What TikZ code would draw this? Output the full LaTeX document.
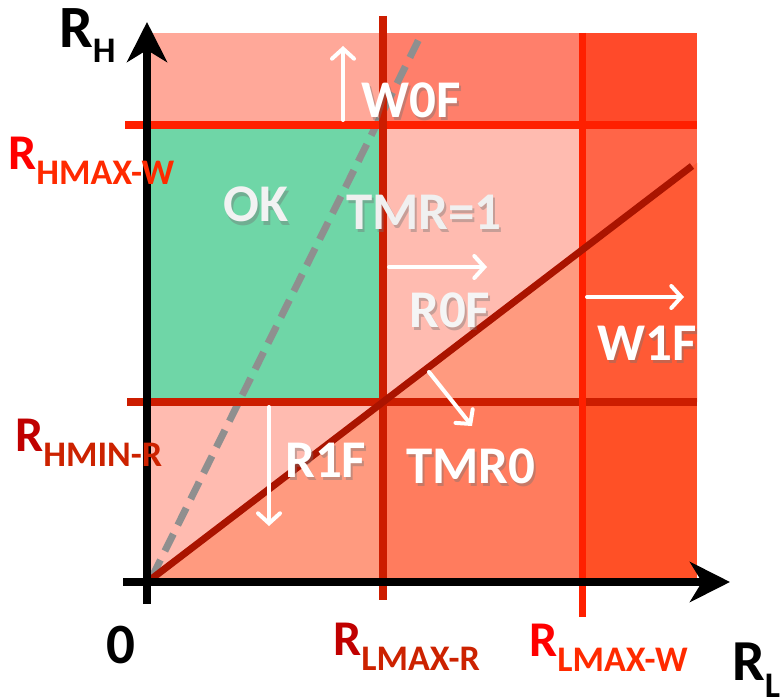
\documentclass[tikz,border=0pt]{standalone}
\usepackage{fontspec}
\setmainfont{Carlito}
\usetikzlibrary{arrows.meta}
\definecolor{cTL}{HTML}{FFA899}
\definecolor{cTM}{HTML}{FF7F6B}
\definecolor{cTR}{HTML}{FF4A2A}
\definecolor{cGreen}{HTML}{6FD6A7}
\definecolor{cLight}{HTML}{FFBBB0}
\definecolor{cMid}{HTML}{FF9A7F}
\definecolor{cMR}{HTML}{FF6548}
\definecolor{cMRb}{HTML}{FF5A35}
\definecolor{cBM}{HTML}{FF7C5E}
\definecolor{cBR}{HTML}{FF5026}
\definecolor{lineW}{HTML}{FF2000}
\definecolor{lineR}{HTML}{CC1D00}
\definecolor{diagC}{HTML}{AA1400}
\definecolor{dashC}{HTML}{8F8F8F}
\definecolor{labW}{HTML}{FF0000}
\definecolor{labWsub}{HTML}{FF2A00}
\definecolor{labR}{HTML}{C00000}
\definecolor{labRsub}{HTML}{CC2200}
\tikzset{
  axis/.style={line width=8pt, -{Stealth[length=40pt,width=40pt,inset=12pt]}},
  limW/.style={line width=8pt, draw=lineW},
  limR/.style={line width=8pt, draw=lineR},
  warrow/.style={line width=4pt, white, line cap=round, -{Straight Barb[length=10pt,width=22pt,line cap=round]}},
  lbl/.style={anchor=base west, inner sep=0pt, text=white, font=\fontsize{53}{53}\selectfont\bfseries},
  lblsh/.style={anchor=base west, inner sep=0pt, text=black!55, opacity=0.4, font=\fontsize{53}{53}\selectfont\bfseries},
  axlbl/.style={anchor=base west, inner sep=0pt, font=\fontsize{50}{50}\selectfont\bfseries},
}
\newcommand{\subtx}[2]{\raisebox{-15pt}{\color{#1}\fontsize{36}{36}\selectfont\bfseries #2}}
\begin{document}
\begin{tikzpicture}[x=1pt,y=-1pt]
\useasboundingbox (0,0) rectangle (782,698);
% coordinates
\coordinate (o) at (148,581);
\coordinate (dA) at (383,402);
\coordinate (dB) at (582,250.4);
\coordinate (dE) at (697,162.8);
% top band
\fill[cTL] (148,33) rectangle (383,125);
\fill[cTM] (383,33) rectangle (582,125);
\fill[cTR] (582,33) rectangle (697,125);
% middle band
\fill[cGreen] (148,125) rectangle (383,402);
\fill[cLight] (383,125) rectangle (582,402);
\fill[cMid] (dA) -- (dB) -- (582,402) -- cycle;
\fill[cMR] (582,125) rectangle (697,402);
\fill[cMRb] (dB) -- (dE) -- (697,402) -- (582,402) -- cycle;
% bottom band
\fill[cLight] (148,402) rectangle (383,581);
\fill[cMid] (o) -- (dA) -- (383,581) -- cycle;
\fill[cBM] (383,402) rectangle (582,581);
\fill[cBR] (582,402) rectangle (697,581);
% dashed gray line
\coordinate (g0) at (152,577);
\coordinate (g1) at (422,33);
\draw[dashC, line width=7pt, dash pattern=on 19pt off 10pt] (g0) -- (g1);
% limit lines
\coordinate (hw0) at (125,125); \coordinate (hw1) at (697,125);
\coordinate (hr0) at (127,402); \coordinate (hr1) at (697,402);
\coordinate (vr0) at (383,16);  \coordinate (vr1) at (383,600);
\coordinate (vw0) at (582,33);  \coordinate (vw1) at (582,617);
\draw[limW] (hw0) -- (hw1);
\draw[limR] (hr0) -- (hr1);
\draw[limR] (vr0) -- (vr1);
\draw[limW, line width=7pt] (vw0) -- (vw1);
% diagonal
\coordinate (d0) at (150,580);
\coordinate (d1) at (692,166);
\draw[diagC, line width=7pt] (d0) -- (d1);
% axes
\coordinate (ya0) at (147,604); \coordinate (ya1) at (147,22);
\coordinate (xa0) at (123,582); \coordinate (xa1) at (730,582);
\draw[axis] (ya0) -- (ya1);
\draw[axis] (xa0) -- (xa1);
% white arrows
\coordinate (a1s) at (343,120); \coordinate (a1e) at (343,46);
\coordinate (a2s) at (389,267); \coordinate (a2e) at (487,267);
\coordinate (a3s) at (587,297); \coordinate (a3e) at (684,297);
\coordinate (a4s) at (429,372); \coordinate (a4e) at (472,426);
\coordinate (a5s) at (269,407); \coordinate (a5e) at (269,526);
\draw[warrow] (a1s) -- (a1e);
\draw[warrow] (a2s) -- (a2e);
\draw[warrow] (a3s) -- (a3e);
\draw[warrow] (a4s) -- (a4e);
\draw[warrow] (a5s) -- (a5e);
% region labels (shadow + text)
\node[lblsh] at (363,121) {W0F};
\node[lbl] (w0f) at (361,118) {W0F};
\node[lblsh] at (225,225) {OK};
\node[lbl, text=white!95!black] (ok) at (223,222) {OK};
\node[lblsh] at (348,232) {TMR=1};
\node[lbl, text=white!94!black] (tmr1) at (346,229) {TMR=1};
\node[lblsh] at (411,330) {R0F};
\node[lbl, text=white!96!black] (r0f) at (409,327) {R0F};
\node[lblsh] at (599,363) {W1F};
\node[lbl] (w1f) at (597,360) {W1F};
\node[lblsh] at (287,480) {R1F};
\node[lbl] (r1f) at (285,477) {R1F};
\node[lblsh] at (408,486) {TMR0};
\node[lbl] (tmr0) at (406,483) {TMR0};
% axis labels
\node[axlbl, font=\fontsize{60}{60}\selectfont\bfseries] (rh) at (59,48) {R\raisebox{-15pt}{\fontsize{36}{36}\selectfont\bfseries H}};
\node[axlbl, text=labW] (rhmaxw) at (8,169) {R\subtx{labWsub}{HMAX-W}};
\node[axlbl, text=labR] (rhminr) at (15,451) {R\subtx{labRsub}{HMIN-R}};
\node[axlbl, font=\fontsize{57}{57}\selectfont\bfseries] (zero) at (106,663) {0};
\node[axlbl, text=labR] (rlmaxr) at (333,655) {R\subtx{labRsub}{LMAX-R}};
\node[axlbl, text=labW] (rlmaxw) at (529,656) {R\subtx{labWsub}{LMAX-W}};
\node[axlbl, font=\fontsize{58}{58}\selectfont\bfseries] (rl) at (732,680) {R\raisebox{-17pt}{\fontsize{36}{36}\selectfont\bfseries L}};
\end{tikzpicture}
\end{document}
